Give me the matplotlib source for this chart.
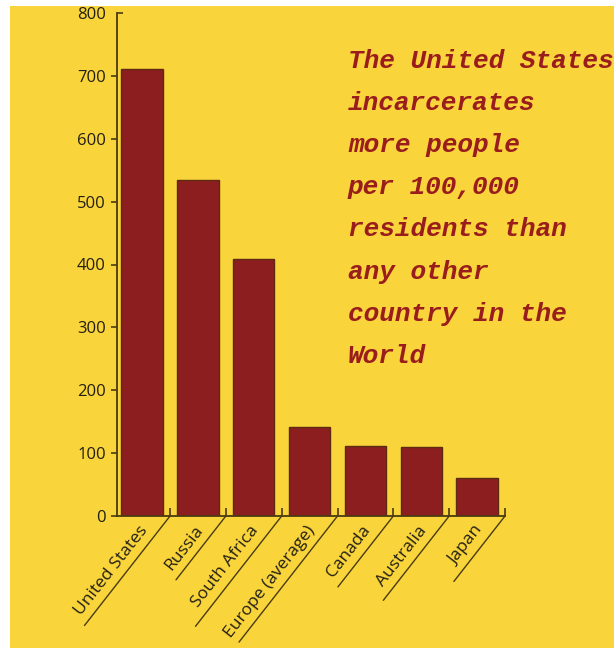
import numpy as np
import matplotlib
matplotlib.use("Agg")
import matplotlib.pyplot as plt
from matplotlib.patches import Rectangle

# datos
paises = ["United States", "Russia", "South Africa", "Europe (average)",
          "Canada", "Australia", "Japan"]
tasas = [711, 535, 409, 141, 111, 110, 60]
yticks = [0, 100, 200, 300, 400, 500, 600, 700]
texto = ["The United States", "incarcerates", "more people", "per 100,000",
         "residents than", "any other", "country in the", "World"]

amarillo = "#F9D43B"
rojo = "#8C1E1F"
borde = "#5E2A12"
eje = "#4A3B12"
tinta = "#231F14"

# largo de las lineas diagonales bajo cada etiqueta (px)
largos = [139, 81, 140, 160, 90, 107, 83]
ang = np.deg2rad(52)

fig = plt.figure(figsize=(6.14, 6.48), dpi=100, facecolor="white")
# fondo amarillo (con franja blanca arriba y a la izquierda)
fig.patches.append(Rectangle((10 / 614, 0), 1, 1 - 6 / 648, transform=fig.transFigure,
                             facecolor=amarillo, edgecolor="none", zorder=-5))

ax = fig.add_axes([117 / 614, 1 - 516 / 648, 388 / 614, 503 / 648])
ax.set_facecolor("none")

x = np.arange(len(paises))
ax.bar(x, tasas, width=0.74, color=rojo, edgecolor=borde, linewidth=1.0, zorder=2)

ax.set_xlim(-0.45, 6.5)
ax.set_ylim(0, 800)

for s in ["top", "right"]:
    ax.spines[s].set_visible(False)
for s in ["left", "bottom"]:
    ax.spines[s].set_color(eje)
    ax.spines[s].set_linewidth(1.3)

ax.set_yticks(yticks)
ax.set_yticklabels([str(v) for v in yticks])
ax.set_yticks([800], minor=True)
ax.set_yticklabels(["800"], minor=True)
ax.tick_params(axis="y", which="major", direction="out", length=4.5, width=1.2,
               color=eje, pad=3.5, labelsize=12, labelcolor=tinta)
ax.tick_params(axis="y", which="minor", direction="in", length=4.5, width=1.2,
               color=eje, pad=8, labelsize=12, labelcolor=tinta)
for lab in ax.get_yticklabels(which="both"):
    lab.set_family("Open Sans")

ax.set_xticks(x + 0.5)
ax.set_xticklabels([])
ax.tick_params(axis="x", direction="in", length=6, width=1.2, color=eje)

# lineas diagonales y etiquetas giradas
u = np.array([-np.cos(ang), -np.sin(ang)])
n = np.array([-np.sin(ang), np.cos(ang)])
for i, (nombre, L) in enumerate(zip(paises, largos)):
    xb = i + 0.5
    fin = u * L * 0.72
    ax.annotate("", xy=(xb, 0), xycoords="data",
                xytext=tuple(fin), textcoords="offset points",
                arrowprops=dict(arrowstyle="-", color=eje, lw=1.0,
                                shrinkA=0, shrinkB=0),
                annotation_clip=False)
    pos = (u * 25 + n * 9) * 0.72
    ax.annotate(nombre, xy=(xb, 0), xycoords="data",
                xytext=tuple(pos), textcoords="offset points",
                rotation=52, rotation_mode="anchor", ha="right", va="baseline",
                fontsize=12.5, family="Open Sans", color=tinta,
                annotation_clip=False)

# texto de la derecha
for i, linea in enumerate(texto):
    fig.text(348 / 614, 1 - (68 + i * 42.1) / 648, linea,
             family="Liberation Mono", fontstyle="italic", fontweight="bold",
             fontsize=18.8, color="#9A1D1D", va="baseline", ha="left")

fig.savefig("out.png", dpi=100, facecolor=fig.get_facecolor())
